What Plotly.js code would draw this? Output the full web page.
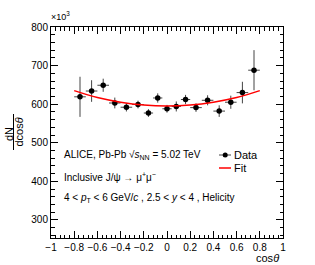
<!DOCTYPE html>
<html>
<head>
<meta charset="utf-8">
<script src="https://cdn.plot.ly/plotly-3.0.1.min.js"></script>
<style>html,body{margin:0;padding:0;background:#fff;}#plot{width:315px;height:265px;}</style>
</head>
<body>
<div id="plot"></div>
<script>
// cos(theta) bin centres and half widths
var cosTheta = [-0.75,-0.65,-0.55,-0.45,-0.35,-0.25,-0.16,-0.08,0,0.08,0.16,0.25,0.35,0.45,0.55,0.65,0.75];
var binHalf  = [0.05,0.05,0.05,0.05,0.05,0.05,0.04,0.04,0.04,0.04,0.04,0.05,0.05,0.05,0.05,0.05,0.05];
// dN/dcos(theta) in units of 10^3
var dNdcos   = [619,634,649,603,592,599,577,616,588,594,612,591,610,582,605,630,688];
var dNerr    = [52,28,17,14,11,10,10,12,10,13,12,11,13,15,17,28,52];
// fit curve
var fitX = [-0.8,-0.6,-0.4,-0.2,0,0.2,0.4,0.6,0.8];
var fitY = [635,617,605,597.5,595,597.5,605,617,635];
var xTicks = [-1,-0.8,-0.6,-0.4,-0.2,0,0.2,0.4,0.6,0.8,1];

var FONT = 'Liberation Sans, Arial, sans-serif';
var L=51, R=32, T=27, B=27, W=315, H=265;
var pw = W-L-R, ph = H-T-B;
function px(x){return (x-L)/pw;}
function py(y){return (H-B-y)/ph;}

var data = [
  {x: cosTheta, y: dNdcos, type:'scatter', mode:'markers',
   marker:{color:'black', size:5.5},
   error_y:{type:'data', array:dNerr, visible:true, color:'#444', thickness:1, width:0},
   error_x:{type:'data', array:binHalf, visible:true, color:'#444', thickness:1, width:0},
   showlegend:false, cliponaxis:false},
  {x: fitX, y: fitY, type:'scatter', mode:'lines',
   line:{color:'#ff0000', width:1.5, shape:'spline'}, showlegend:false}
];

var ann = [
  {text:'×10<sup>3</sup>', xref:'paper', yref:'paper', x:px(49), y:py(24), xanchor:'left', yanchor:'bottom', showarrow:false, font:{size:9}},
  {text:'ALICE, Pb-Pb √<i>s</i><sub>NN</sub> = 5.02 TeV', xref:'paper', yref:'paper', x:px(62), y:py(155), xanchor:'left', yanchor:'middle', showarrow:false, font:{size:10}},
  {text:'Inclusive J/ψ → μ<sup>+</sup>μ<sup>−</sup>', xref:'paper', yref:'paper', x:px(62), y:py(176.5), xanchor:'left', yanchor:'middle', showarrow:false, font:{size:10}},
  {text:'4 < <i>p</i><sub>T</sub> < 6 GeV/<i>c</i> , 2.5 < <i>y</i> < 4 , Helicity', xref:'paper', yref:'paper', x:px(62), y:py(198), xanchor:'left', yanchor:'middle', showarrow:false, font:{size:10}},
  {text:'Data', xref:'paper', yref:'paper', x:px(232), y:py(155), xanchor:'left', yanchor:'middle', showarrow:false, font:{size:11}},
  {text:'Fit', xref:'paper', yref:'paper', x:px(232), y:py(168), xanchor:'left', yanchor:'middle', showarrow:false, font:{size:11}},
  {text:'cos<i>θ</i>', xref:'paper', yref:'paper', x:px(281), y:py(258), xanchor:'right', yanchor:'middle', showarrow:false, font:{size:11}},
  {text:'dN', xref:'paper', yref:'paper', x:px(9), y:py(134), xanchor:'center', yanchor:'middle', textangle:-90, showarrow:false, font:{size:11}},
  {text:'dcos<i>θ</i>', xref:'paper', yref:'paper', x:px(18.5), y:py(132), xanchor:'center', yanchor:'middle', textangle:-90, showarrow:false, font:{size:11}}
];

var shapes = [
  {type:'line', xref:'paper', yref:'paper', x0:px(13.5), x1:px(13.5), y0:py(114), y1:py(150), line:{color:'black', width:1}},
  {type:'line', xref:'paper', yref:'paper', x0:px(219), x1:px(231), y0:py(155), y1:py(155), line:{color:'#444', width:1}},
  {type:'circle', xref:'paper', yref:'paper', x0:px(222.7), x1:px(227.7), y0:py(152.5), y1:py(157.5), fillcolor:'black', line:{color:'black', width:0}},
  {type:'line', xref:'paper', yref:'paper', x0:px(219), x1:px(231), y0:py(168), y1:py(168), line:{color:'#ff0000', width:1.5}}
];

var layout = {
  width:W, height:H,
  margin:{l:L, r:R, t:T, b:B, pad:0},
  paper_bgcolor:'white', plot_bgcolor:'white',
  font:{family:FONT, color:'black', size:10},
  showlegend:false,
  xaxis:{range:[-1,1], tickvals:xTicks, ticks:'inside', ticklen:7, tickwidth:1, tickcolor:'black',
         mirror:'allticks', showline:true, linecolor:'black', linewidth:1, showgrid:false, zeroline:false,
         tickfont:{size:10}, minor:{ticks:'inside', ticklen:3.5, dtick:0.04, tick0:-1, tickcolor:'black', showgrid:false}},
  yaxis:{range:[253,800], tick0:300, dtick:100, ticks:'inside', ticklen:7, tickwidth:1, tickcolor:'black',
         mirror:'allticks', showline:true, linecolor:'black', linewidth:1, showgrid:false, zeroline:false,
         tickfont:{size:10}, minor:{ticks:'inside', ticklen:3.5, dtick:20, tick0:300, tickcolor:'black', showgrid:false}},
  annotations: ann,
  shapes: shapes
};

Plotly.newPlot('plot', data, layout, {staticPlot:true, displayModeBar:false});
</script>
</body>
</html>
